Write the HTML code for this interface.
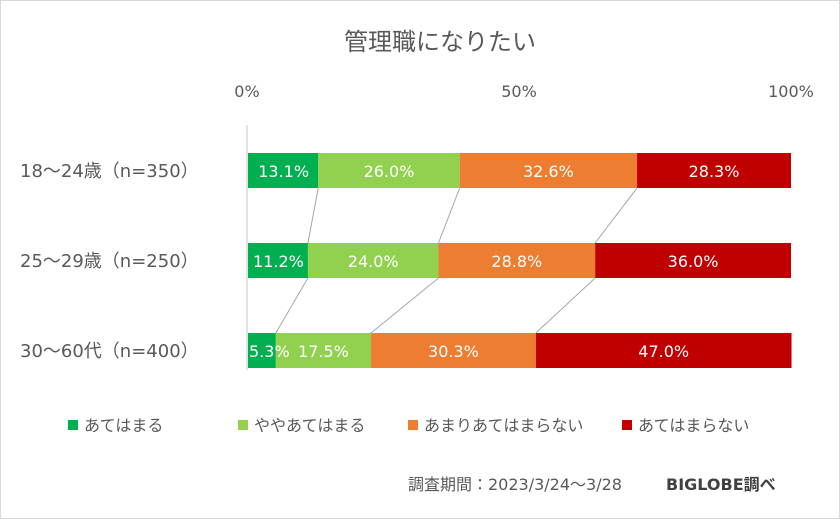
<!DOCTYPE html>
<html><head><meta charset="utf-8"><style>
body{margin:0;background:#fff;}
svg text{font-family:"DejaVu Sans","Noto Sans CJK JP",sans-serif;}
</style></head><body>
<svg id="chart" width="840" height="519" viewBox="0 0 840 519">
<rect x="0.5" y="0.5" width="839" height="518" fill="#fff" stroke="#d9d9d9"/>
<text x="440" y="50" font-size="24" fill="#595959" text-anchor="middle">管理職になりたい</text>
<g id="axis"></g>
<g id="links"></g>
<g id="bars"></g>
<g id="labels"></g>
<g id="cats"></g>
<g id="legend"></g>
<text x="408" y="490" font-size="16" fill="#595959">調査期間：2023/3/24～3/28</text>
<text x="666" y="490" font-size="16" font-weight="bold" fill="#404040">BIGLOBE調べ</text>
</svg>
<script>
const categories=["18～24歳（n=350）","25～29歳（n=250）","30～60代（n=400）"];
const seriesNames=["あてはまる","ややあてはまる","あまりあてはまらない","あてはまらない"];
const s1=[13.1,11.2,5.3];
const s2=[26.0,24.0,17.5];
const s3=[32.6,28.8,30.3];
const s4=[28.3,36.0,47.0];
const tickValues=[0,50,100];
const colors=["#00b050","#92d050","#ed7d31","#c00000"];
const series=[s1,s2,s3,s4];
const NS="http://www.w3.org/2000/svg";
const x0=247,x1=791;
const xs=v=>x0+(v/100)*(x1-x0);
const rowTop=[153,243,333],bh=35;
function mk(tag,attrs,parent,text){const e=document.createElementNS(NS,tag);for(const k in attrs)e.setAttribute(k,attrs[k]);if(text!=null)e.textContent=text;parent.appendChild(e);return e;}
const axis=document.getElementById('axis');
tickValues.forEach(t=>{const e=mk('text',{x:xs(t),y:97,'font-size':16,fill:'#595959','text-anchor':'middle'},axis,t+'%');

});
const al=mk('line',{x1:x0,y1:125,x2:x0,y2:370,stroke:'#d9d9d9','stroke-width':1.5},axis);


const bars=document.getElementById('bars'),links=document.getElementById('links'),labels=document.getElementById('labels');
const cum=categories.map((c,i)=>{let a=0;return series.map(s=>(a+=s[i]));});
for(let i=0;i<categories.length-1;i++){for(let j=0;j<3;j++){
const l=mk('line',{x1:xs(cum[i][j]),y1:rowTop[i]+bh,x2:xs(cum[i+1][j]),y2:rowTop[i+1],stroke:'#a6a6a6','stroke-width':1},links);

}}
categories.forEach((c,i)=>{let a=0;series.forEach((s,j)=>{const v=s[i];
const r=mk('rect',{x:xs(a)+(j==0?1:0),y:rowTop[i],width:xs(a+v)-xs(a)-(j==0?1:0),height:bh,fill:colors[j]},bars);


const w=xs(a+v)-xs(a);const narrow=w<50;
const t=mk('text',{x:narrow?xs(a)+2:xs(a+v/2)+(j==0?1:0),y:rowTop[i]+24,'font-size':16,fill:'#fff','text-anchor':narrow?'start':'middle'},labels,v.toFixed(1)+'%');


a+=v;});
const cl=mk('text',{x:20,y:rowTop[i]+24,'font-size':18,fill:'#595959'},document.getElementById('cats'),c);

});
const lg=document.getElementById('legend');const lx=[68,238,408,622];
seriesNames.forEach((n,j)=>{const g=mk('g',{},lg);


mk('rect',{x:lx[j],y:420,width:10,height:10,fill:colors[j]},g);
mk('text',{x:lx[j]+16,y:431,'font-size':16,fill:'#595959'},g,n);});
</script>
</body></html>
